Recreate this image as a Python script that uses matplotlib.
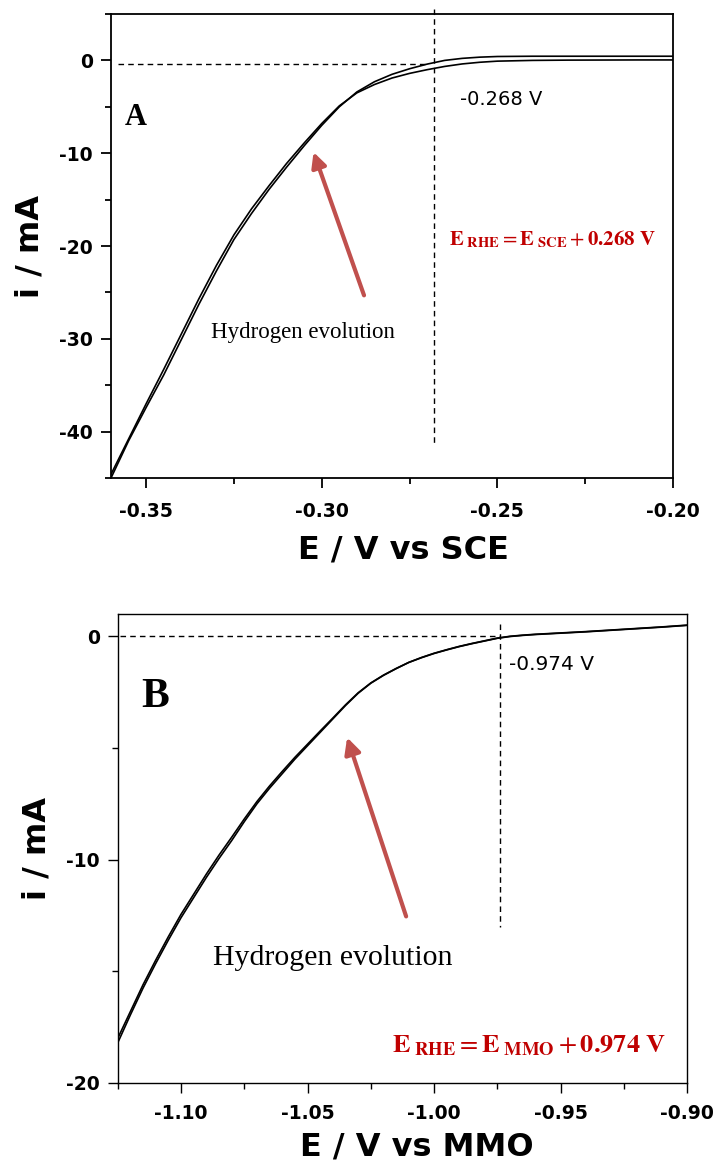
import numpy as np
import matplotlib.pyplot as plt
from matplotlib.ticker import MultipleLocator

plt.rcParams['axes.unicode_minus'] = False

# Panel A: polarisation vs SCE (two scans)
E_a = [-0.360, -0.355, -0.350, -0.345, -0.340, -0.335, -0.330, -0.325, -0.320, -0.315,
       -0.310, -0.305, -0.300, -0.295, -0.290, -0.285, -0.280, -0.275, -0.270, -0.265,
       -0.260, -0.255, -0.250, -0.240, -0.230, -0.220, -0.210, -0.200]
i_a1 = [-45.0, -41.0, -37.4, -33.9, -30.1, -26.3, -22.7, -19.3, -16.5, -13.9,
        -11.5, -9.2, -7.0, -5.0, -3.4, -2.3, -1.5, -0.9, -0.4, 0.0,
        0.22, 0.35, 0.42, 0.45, 0.45, 0.45, 0.45, 0.45]
i_a2 = [-44.6, -40.8, -37.0, -33.3, -29.5, -25.7, -22.1, -18.8, -16.0, -13.5,
        -11.1, -8.9, -6.8, -4.9, -3.5, -2.6, -1.9, -1.4, -1.0, -0.65,
        -0.38, -0.20, -0.08, 0.0, 0.03, 0.04, 0.05, 0.05]

# Panel B: polarisation vs MMO (two scans)
E_b = [-1.125, -1.120, -1.115, -1.110, -1.105, -1.100, -1.095, -1.090, -1.085, -1.080,
       -1.075, -1.070, -1.065, -1.060, -1.055, -1.050, -1.045, -1.040, -1.035, -1.030,
       -1.025, -1.020, -1.015, -1.010, -1.005, -1.000, -0.995, -0.990, -0.985, -0.980,
       -0.975, -0.970, -0.965, -0.960, -0.950, -0.940, -0.930, -0.920, -0.910, -0.900]
i_b1 = [-18.2, -16.95, -15.75, -14.65, -13.6, -12.6, -11.7, -10.8, -9.95, -9.15,
        -8.3, -7.5, -6.8, -6.15, -5.5, -4.9, -4.3, -3.7, -3.1, -2.55,
        -2.1, -1.75, -1.45, -1.17, -0.95, -0.76, -0.6, -0.45, -0.32, -0.2,
        -0.08, 0.0, 0.05, 0.09, 0.15, 0.21, 0.28, 0.35, 0.42, 0.50]
i_b2 = [-18.0, -16.8, -15.6, -14.5, -13.45, -12.45, -11.55, -10.65, -9.8, -9.0,
        -8.18, -7.4, -6.7, -6.05, -5.42, -4.83, -4.24, -3.66, -3.07, -2.53,
        -2.09, -1.74, -1.44, -1.17, -0.96, -0.77, -0.61, -0.46, -0.33, -0.21,
        -0.09, -0.01, 0.04, 0.08, 0.14, 0.20, 0.27, 0.34, 0.41, 0.49]

onset_a = -0.268
onset_b = -0.974

red = '#c00000'
arrow_red = '#c0504d'
dash = (0, (4, 3))

fig = plt.figure(figsize=(7.18, 11.67), dpi=100)
axA = fig.add_axes([0.1546, 0.5904, 0.7827, 0.3976])
axB = fig.add_axes([0.1640, 0.0720, 0.7930, 0.4019])


def style(ax, lw):
    for s in ax.spines.values():
        s.set_linewidth(lw)
    ax.xaxis.set_major_locator(MultipleLocator(0.05))
    ax.xaxis.set_minor_locator(MultipleLocator(0.025))
    ax.xaxis.set_major_formatter(plt.FuncFormatter(lambda v, p: f'{v:.2f}'))
    ax.tick_params(which='both', direction='out', top=False, right=False, width=lw)
    ax.tick_params(which='major', length=7, labelsize=13.5)
    ax.tick_params(which='minor', length=4.5)
    ax.tick_params(axis='y', which='major', pad=6)
    for lab in ax.get_xticklabels() + ax.get_yticklabels():
        lab.set_fontweight('bold')


# ---- Panel A
axA.plot(E_a, i_a1, color='black', lw=1.2)
axA.plot(E_a, i_a2, color='black', lw=1.2)
axA.set_xlim(-0.36, -0.20)
axA.set_ylim(-45, 5)
axA.yaxis.set_major_locator(MultipleLocator(10))
axA.yaxis.set_minor_locator(MultipleLocator(5))
style(axA, 1.3)
axA.tick_params(axis='x', which='major', pad=10)
axA.plot([-0.358, onset_a - 0.0015], [-0.4, -0.4], color='black', lw=1, ls=dash)
axA.plot([onset_a, onset_a], [5.5, -41.6], color='black', lw=1, ls=dash, clip_on=False)
axA.set_xlabel('E / V vs SCE', fontsize=23, fontweight='bold', labelpad=10)
axA.xaxis.label.set_x(0.521)
axA.set_ylabel('i / mA', fontsize=23, fontweight='bold', labelpad=10)
axA.text(-0.3529, -6.15, 'A', fontsize=22, fontweight='bold', family='Liberation Serif',
         ha='center', va='center')
axA.text(-0.2606, -4.2, '-0.268 V', fontsize=14, ha='left', va='center')
axA.text(-0.3054, -29.3, 'Hydrogen evolution', fontsize=16.5, family='Liberation Serif',
         ha='center', va='center')
axA.text(-0.2343, -19.3,
         r'$\mathbf{E}_{\mathbf{\ RHE}} = \mathbf{E}_{\mathbf{\ SCE}} + \mathbf{0.268\ V}$',
         fontsize=15, color=red, math_fontfamily='stix', ha='center', va='center')
axA.annotate('', xy=(-0.3026, -9.6), xytext=(-0.2877, -25.6),
             arrowprops=dict(arrowstyle='-|>', color=arrow_red, lw=3, mutation_scale=22))

# ---- Panel B
axB.plot(E_b, i_b1, color='black', lw=1.2)
axB.plot(E_b, i_b2, color='black', lw=1.2)
axB.set_xlim(-1.125, -0.90)
axB.set_ylim(-20, 1)
axB.yaxis.set_major_locator(MultipleLocator(10))
axB.yaxis.set_minor_locator(MultipleLocator(5))
style(axB, 1.0)
axB.tick_params(axis='x', which='major', pad=8)
axB.plot([-1.124, onset_b], [0, 0], color='black', lw=1, ls=dash)
axB.plot([onset_b, onset_b], [0.54, -13.0], color='black', lw=1, ls=dash)
axB.set_xlabel('E / V vs MMO', fontsize=23, fontweight='bold', labelpad=6)
axB.xaxis.label.set_x(0.525)
axB.set_ylabel('i / mA', fontsize=23, fontweight='bold', labelpad=10)
axB.text(-1.1103, -2.7, 'B', fontsize=30, fontweight='bold', family='Liberation Serif',
         ha='center', va='center')
axB.text(-0.9705, -1.26, '-0.974 V', fontsize=14.5, ha='left', va='center')
axB.text(-1.0402, -14.4, 'Hydrogen evolution', fontsize=21.5, family='Liberation Serif',
         ha='center', va='center')
axB.text(-0.9626, -18.3,
         r'$\mathbf{E}_{\mathbf{\ RHE}} = \mathbf{E}_{\mathbf{\ MMO}} + \mathbf{0.974\ V}$',
         fontsize=19, color=red, math_fontfamily='stix', ha='center', va='center')
axB.annotate('', xy=(-1.0347, -4.41), xytext=(-1.0107, -12.66),
             arrowprops=dict(arrowstyle='-|>', color=arrow_red, lw=3, mutation_scale=24))

fig.savefig('out.png', dpi=100)
